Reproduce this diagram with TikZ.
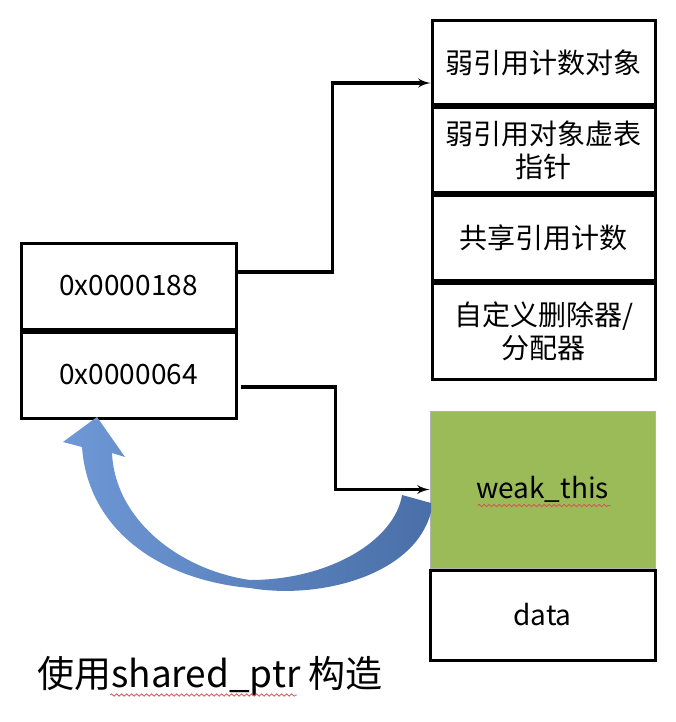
\documentclass[tikz,border=0pt]{standalone}
\usepackage{fontspec}
\setmainfont{Noto Sans CJK SC}
\usepackage{tikz}
\usetikzlibrary{calc}
\usetikzlibrary{arrows,positioning,decorations.pathmorphing}

\definecolor{cellgreen}{HTML}{9BBB59}
\definecolor{arrowlight}{HTML}{6E98D6}
\definecolor{arrowdark}{HTML}{4A6FA8}
\definecolor{wavered}{HTML}{D9534F}

\begin{document}
\begin{tikzpicture} [->,>=latex',x=1pt,y=-1pt,node distance=0pt,line width=3pt]
  \tikzstyle{every node}=[font=\fontsize{28}{33}\selectfont]
  \tikzstyle{cell}=[draw,rectangle,minimum width=223pt,minimum height=84pt,align=center,inner sep=0pt]
  \tikzstyle{link}=[draw=black,line width=3.2pt]
  \tikzstyle{wavy}=[-,draw=wavered,line width=0.8pt,decorate,decoration={snake,amplitude=1.2pt,segment length=5pt}]

  \fill[white] (0,0) rectangle (676,722);
  \useasboundingbox (0,0) rectangle (676,722);

  % control block
  \node[cell]                     (c1) at (543.5,63) {弱引用计数对象};
  \node[cell]                     (c2) [below=of c1] {弱引用对象虚表\\指针};
  \node[cell,minimum height=85pt] (c3) [below=of c2] {共享引用计数};
  \node[cell,minimum height=96pt] (c4) [below=of c3] {自定义删除器/\\分配器};

  % shared_ptr
  \node[cell,minimum width=215pt,minimum height=86pt] (p1) at (128.5,286) {0x0000188};
  \node[cell,minimum width=215pt,minimum height=86pt] (p2) [below=of p1] {0x0000064};

  % object
  \node[cell,fill=cellgreen,draw=gray!60,line width=1pt,minimum width=225pt,minimum height=157pt] (w) at (542.5,489.5) {weak\_this};
  \node[cell,minimum width=225pt,minimum height=90pt] (d) [below=of w] {data};

  \node[font=\fontsize{37}{44}\selectfont] (title) at (210,676) {使用shared\_ptr 构造};

  \draw[link] ([yshift=14pt]p1.east) -- ++(95,0) |- ([yshift=-20pt]c1.west);
  \draw[link] ([xshift=3pt,yshift=-12pt]p2.east) -- ++(95,0) |- (w.west);

  \shade[-,left color=arrowlight,right color=arrowdark]
    (431,512) .. controls (415,575) and (320,600) .. (250,588)
    .. controls (160,580) and (88,530) .. (82,447)
    -- (63,442) -- (97,417) -- (125,457) -- (112,453)
    .. controls (115,520) and (180,570) .. (250,580)
    .. controls (330,580) and (395,540) .. (402,495)
    -- (431,503) -- cycle;

  \draw[wavy] ($(w.center)+(-65,16)$) -- ++(133,0);
  \draw[wavy] ($(title.center)+(-100,19)$) -- ++(187,0);
\end{tikzpicture}
\end{document}
